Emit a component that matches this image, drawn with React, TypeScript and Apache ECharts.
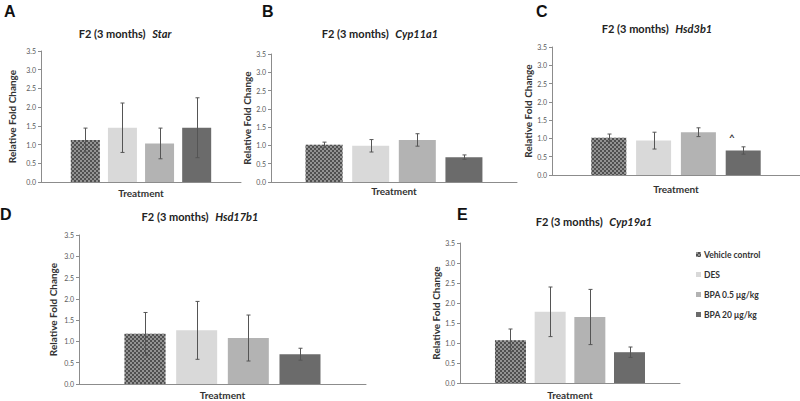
import React, { useEffect, useRef } from 'react';
import * as echarts from 'echarts';

// ---- data ----
const treatments = ['Vehicle control', 'DES', 'BPA 0.5 μg/kg', 'BPA 20 μg/kg'];
const genes = ['Star', 'Cyp11a1', 'Hsd3b1', 'Hsd17b1', 'Cyp19a1'];
const panelLetters = ['A', 'B', 'C', 'D', 'E'];
const titlePrefix = 'F2 (3 months)';
const xCategory = ['Treatment'];
const yMin = 0;
const yMax = 3.5;
const yStep = 0.5;

const starMean = [1.12, 1.45, 1.03, 1.45];
const starErr = [0.32, 0.66, 0.41, 0.8];
const cyp11a1Mean = [1.02, 0.99, 1.15, 0.68];
const cyp11a1Err = [0.07, 0.17, 0.17, 0.06];
const hsd3b1Mean = [1.02, 0.94, 1.17, 0.67];
const hsd3b1Err = [0.1, 0.23, 0.12, 0.1];
const hsd17b1Mean = [1.18, 1.26, 1.08, 0.7];
const hsd17b1Err = [0.5, 0.68, 0.54, 0.14];
const cyp19a1Mean = [1.07, 1.78, 1.65, 0.77];
const cyp19a1Err = [0.28, 0.62, 0.69, 0.13];
const significanceMark = '^';

const means = [starMean, cyp11a1Mean, hsd3b1Mean, hsd17b1Mean, cyp19a1Mean];
const errs = [starErr, cyp11a1Err, hsd3b1Err, hsd17b1Err, cyp19a1Err];

// ---- layout / style ----
const FONT = 'Lato, "Open Sans", sans-serif';
const layout = [
  { l: 41, r: 241, t: 51, b: 182, bw: 29, gap: 0.28, tx: 125, ty: 33, lx: 4, ly: 3, yGap: 24, xGap: 6 },
  { l: 271, r: 517, t: 54, b: 182, bw: 37, gap: 0.26, tx: 380, ty: 33, lx: 262, ly: 3, yGap: 14, xGap: 4 },
  { l: 552, r: 800, t: 47, b: 175, bw: 35, gap: 0.28, tx: 657, ty: 28, lx: 536, ly: 3, yGap: 19, xGap: 9 },
  { l: 79, r: 366, t: 235, b: 386, bw: 41, gap: 0.26, tx: 200, ty: 216, lx: 0, ly: 206, yGap: 21, xGap: 6 },
  { l: 460, r: 680, t: 243, b: 386, bw: 31, gap: 0.28, tx: 594, ty: 221, lx: 457, ly: 206, yGap: 19, xGap: 7 },
];
const barStyles = [
  {
    color: '#939393',
    decal: {
      symbol: 'rect',
      symbolSize: 1,
      color: 'rgba(45,45,45,0.65)',
      dashArrayX: [[2, 2], [0, 2, 2, 0]],
      dashArrayY: [2, 0],
    },
  },
  { color: '#d9d9d9' },
  { color: '#b3b3b3' },
  { color: '#6b6b6b' },
];

export default function App() {
  const ref = useRef<HTMLDivElement>(null);
  useEffect(() => {
    if (!ref.current) return;
    const chart = echarts.init(ref.current, null, { renderer: 'svg' });

    const grids: any[] = [];
    const xAxes: any[] = [];
    const yAxes: any[] = [];
    const series: any[] = [];
    const graphics: any[] = [];

    layout.forEach((g, p) => {
      grids.push({ left: g.l, top: g.t, width: g.r - g.l, height: g.b - g.t, containLabel: false });
      xAxes.push({
        type: 'category',
        gridIndex: p,
        data: xCategory,
        name: xCategory[0],
        nameLocation: 'middle',
        nameGap: g.xGap,
        nameTextStyle: { fontFamily: FONT, fontWeight: 'bold', fontSize: 10, color: '#333', verticalAlign: 'top' },
        axisLine: { lineStyle: { color: '#8c8c8c', width: 1 } },
        axisTick: { show: false },
        axisLabel: { show: false },
      });
      yAxes.push({
        type: 'value',
        gridIndex: p,
        min: yMin,
        max: yMax,
        interval: yStep,
        name: 'Relative Fold Change',
        nameLocation: 'middle',
        nameGap: g.yGap,
        nameTextStyle: { fontFamily: FONT, fontWeight: 'bold', fontSize: 10, color: '#333' },
        axisLine: { show: true, lineStyle: { color: '#8c8c8c', width: 1 } },
        axisTick: { show: true, length: 3, lineStyle: { color: '#8c8c8c' } },
        splitLine: { show: false },
        axisLabel: {
          fontFamily: FONT,
          fontSize: 7,
          color: '#595959',
          margin: 5,
          formatter: (v: number) => v.toFixed(1),
        },
      });
      treatments.forEach((name, t) => {
        series.push({
          type: 'bar',
          name,
          xAxisIndex: p,
          yAxisIndex: p,
          data: [means[p][t]],
          barWidth: g.bw,
          barGap: Math.round(g.gap * 100) + '%',
          itemStyle: barStyles[t],
          silent: true,
        });
      });
      const spacing = g.bw * (1 + g.gap);
      series.push({
        type: 'custom',
        xAxisIndex: p,
        yAxisIndex: p,
        z: 10,
        silent: true,
        encode: { x: 0, y: [1, 2] },
        data: treatments.map((_, t) => [0, means[p][t] - errs[p][t], means[p][t] + errs[p][t], t]),
        renderItem: (params: any, api: any) => {
          const lo = api.coord([api.value(0), api.value(1)]);
          const hi = api.coord([api.value(0), api.value(2)]);
          const x = Math.round(lo[0] + (api.value(3) - 1.5) * spacing) + 0.5;
          const st = { stroke: '#555', lineWidth: 1 };
          return {
            type: 'group',
            children: [
              { type: 'line', shape: { x1: x, y1: lo[1], x2: x, y2: hi[1] }, style: st },
              { type: 'line', shape: { x1: x - 2, y1: hi[1], x2: x + 2, y2: hi[1] }, style: st },
              { type: 'line', shape: { x1: x - 2, y1: lo[1], x2: x + 2, y2: lo[1] }, style: st },
            ],
          };
        },
      });
      graphics.push({
        type: 'text',
        x: g.tx,
        y: g.ty,
        style: {
          text: `{a|${titlePrefix}}  {b|${genes[p]}}`,
          align: 'center',
          verticalAlign: 'middle',
          rich: {
            a: { fontFamily: FONT, fontWeight: 'bold', fontSize: 11, fill: '#222' },
            b: { fontFamily: FONT, fontWeight: 'bold', fontStyle: 'italic', fontSize: 11, fill: '#222' },
          },
        },
      });
      graphics.push({
        type: 'text',
        x: g.lx,
        y: g.ly,
        style: { text: panelLetters[p], fontFamily: 'Liberation Sans, Arial, sans-serif', fontWeight: 'bold', fontSize: 16, fill: '#111' },
      });
    });
    graphics.push({
      type: 'text',
      x: 732,
      y: 137,
      style: { text: significanceMark, fontFamily: FONT, fontWeight: 'bold', fontSize: 10, fill: '#333', align: 'center', verticalAlign: 'middle' },
    });

    chart.setOption({
      animation: false,
      backgroundColor: '#ffffff',
      grid: grids,
      xAxis: xAxes,
      yAxis: yAxes,
      series,
      graphic: graphics,
      legend: {
        data: treatments,
        orient: 'vertical',
        left: 691,
        top: 244,
        itemWidth: 5,
        itemHeight: 5,
        itemGap: 9,
        icon: 'rect',
        selectedMode: false,
        textStyle: { fontFamily: FONT, fontWeight: 'bold', fontSize: 8.5, color: '#333', lineHeight: 11, padding: [0, 0, 0, -2] },
      },
    });
    return () => chart.dispose();
  }, []);
  return <div ref={ref} style={{ position: 'fixed', left: 0, top: 0, width: 800, height: 401, background: '#fff' }} />;
}
